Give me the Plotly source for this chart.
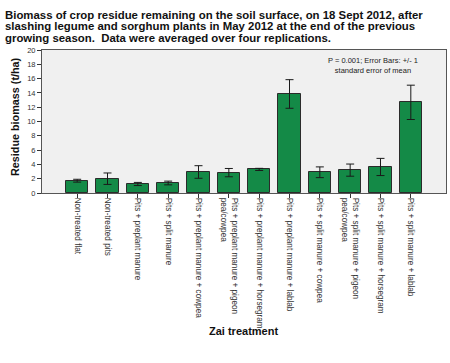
import plotly.graph_objects as go

categories = [
    "Non-treated flat",
    "Non-treated pits",
    "Pits + preplant manure",
    "Pits + split manure",
    "Pits + preplant manure + cowpea",
    "Pits + preplant manure + pigeon<br>pea/cowpea",
    "Pits + preplant manure + horsegram",
    "Pits + preplant manure + lablab",
    "Pits + split manure + cowpea",
    "Pits + split manure + pigeon<br>pea/cowpea",
    "Pits + split manure + horsegram",
    "Pits + split manure + lablab",
]
means = [1.72, 2.0, 1.26, 1.4, 2.94, 2.85, 3.3, 13.85, 2.9, 3.2, 3.64, 12.68]
sems = [0.2, 0.8, 0.22, 0.26, 0.88, 0.58, 0.15, 2.0, 0.75, 0.85, 1.2, 2.4]
y_ticks = list(range(0, 21, 2))
title_lines = [
    "Biomass of crop residue remaining on the soil surface, on 18 Sept 2012, after",
    "slashing legume and sorghum plants in May 2012 at the end of the previous",
    "growing season.  Data were averaged over four replications.",
]

W, H = 450, 363
L, R, T, B = 42, 4, 50, 170
ph = H - T - B
pw = W - L - R

def py(px):
    return (H - B - px) / ph

def pxx(px):
    return (px - L) / pw

fig = go.Figure()
fig.add_trace(go.Bar(
    x=list(range(len(categories))),
    y=means,
    width=0.73,
    marker=dict(color="#148a47", line=dict(color="#2b2b2b", width=1)),
    error_y=dict(type="data", array=sems, color="#1a1a1a", thickness=1, width=4),
    hoverinfo="skip",
))

fig.update_layout(
    width=W, height=H,
    margin=dict(l=L, r=R, t=T, b=B, autoexpand=False),
    paper_bgcolor="white",
    plot_bgcolor="#f0f0f0",
    showlegend=False,
    font=dict(family="Liberation Sans, Arial, sans-serif", color="#222"),
    bargap=0,
)
fig.update_xaxes(
    range=[-1.16, 12.16],
    tickmode="array",
    tickvals=list(range(len(categories))),
    ticktext=categories,
    tickangle=90,
    tickfont=dict(size=8.2, color="#333"),
    ticks="outside", ticklen=4, tickcolor="#333",
    ticklabelstandoff=-2,
    showline=True, linecolor="#555", linewidth=1, mirror=True,
    showgrid=False, zeroline=False, automargin=False,
)
fig.update_yaxes(
    range=[0, 20],
    tickvals=y_ticks,
    tickfont=dict(size=7.5, color="#333"),
    ticks="outside", ticklen=4, tickcolor="#333",
    showline=True, linecolor="#555", linewidth=1, mirror=True,
    showgrid=False, zeroline=False, automargin=False,
)

annotations = []
for i, line in enumerate(title_lines):
    annotations.append(dict(
        text="<b>" + line + "</b>",
        xref="paper", yref="paper", x=pxx(3), y=py(15 + 11.5 * i),
        xanchor="left", yanchor="middle", align="left", showarrow=False,
        font=dict(size=11.4, color="#111")))
annotations += [
    dict(text="P = 0.001; Error Bars: +/- 1<br>standard error of mean",
         xref="paper", yref="paper", x=pxx(373), y=py(54),
         xanchor="center", yanchor="top", align="center", showarrow=False,
         font=dict(size=7.5, color="#222")),
    dict(text="<b>Zai treatment</b>",
         xref="paper", yref="paper", x=pxx(243), y=py(331),
         xanchor="center", yanchor="middle", showarrow=False,
         font=dict(size=11, color="#111")),
    dict(text="<b>Residue biomass (t/ha)</b>",
         xref="paper", yref="paper", x=pxx(15), y=py(117),
         xanchor="center", yanchor="middle", textangle=-90, showarrow=False,
         font=dict(size=10.8, color="#111")),
]
fig.update_layout(annotations=annotations)

fig.write_html("out.html", config={"displayModeBar": False},
               post_script="document.body.style.margin='0';")
